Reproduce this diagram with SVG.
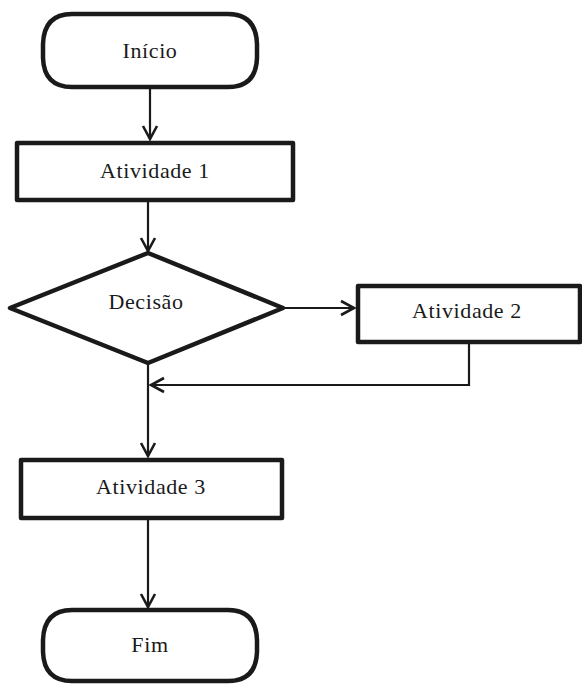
<svg xmlns="http://www.w3.org/2000/svg" width="582" height="684" viewBox="0 0 582 684">
  <style>
    .shape { fill: #ffffff; stroke: #1a1a1a; stroke-width: 4.5; stroke-linejoin: round; }
    .conn { fill: none; stroke: #1a1a1a; stroke-width: 2.2; }
    .label { font-family: "Liberation Serif", "Times New Roman", serif; font-size: 22px; fill: #1a1a1a; text-anchor: middle; letter-spacing: 0.6px; }
  </style>
  <defs>
    <marker id="arrow" markerUnits="userSpaceOnUse" markerWidth="20" markerHeight="20" viewBox="-16 -10 20 20" refX="0" refY="0" orient="auto">
      <polyline points="-13,-7 0,0 -13,7" fill="none" stroke="#1a1a1a" stroke-width="2.6"/>
    </marker>
  </defs>

  <!-- connectors -->
  <g id="connectors">
    <line class="conn" x1="150" y1="88" x2="150" y2="139" marker-end="url(#arrow)"/>
    <line class="conn" x1="148" y1="200" x2="148" y2="251" marker-end="url(#arrow)"/>
    <line class="conn" x1="283" y1="308" x2="354" y2="308" marker-end="url(#arrow)"/>
    <polyline class="conn" points="469,340 469,385 151,385" marker-end="url(#arrow)"/>
    <line class="conn" x1="148" y1="363" x2="148" y2="456" marker-end="url(#arrow)"/>
    <line class="conn" x1="148" y1="519" x2="148" y2="607" marker-end="url(#arrow)"/>
  </g>

  <!-- start terminator -->
  <g id="inicio">
    <path class="shape" d="M72,14 H228 Q256,14 257,44 V58 Q256,87 228,87 H72 Q44,87 43,58 V44 Q44,14 72,14 Z"/>
    <text class="label" x="150" y="58">Início</text>
  </g>

  <g id="atividade1">
    <rect class="shape" x="17" y="143" width="276" height="57"/>
    <text class="label" x="155" y="178">Atividade 1</text>
  </g>

  <g id="decisao">
    <polygon class="shape" points="148,253 283,308 148,363 10,308"/>
    <text class="label" x="146" y="309">Decisão</text>
  </g>

  <g id="atividade2">
    <rect class="shape" x="358" y="286" width="222" height="56"/>
    <text class="label" x="467" y="318">Atividade 2</text>
  </g>

  <g id="atividade3">
    <rect class="shape" x="21" y="460" width="261" height="58"/>
    <text class="label" x="151" y="494">Atividade 3</text>
  </g>

  <!-- end terminator -->
  <g id="fim">
    <path class="shape" d="M72,610 H228 Q256,610 257,640 V652 Q256,681 228,681 H72 Q44,681 43,652 V640 Q44,610 72,610 Z"/>
    <text class="label" x="150" y="652">Fim</text>
  </g>
</svg>
